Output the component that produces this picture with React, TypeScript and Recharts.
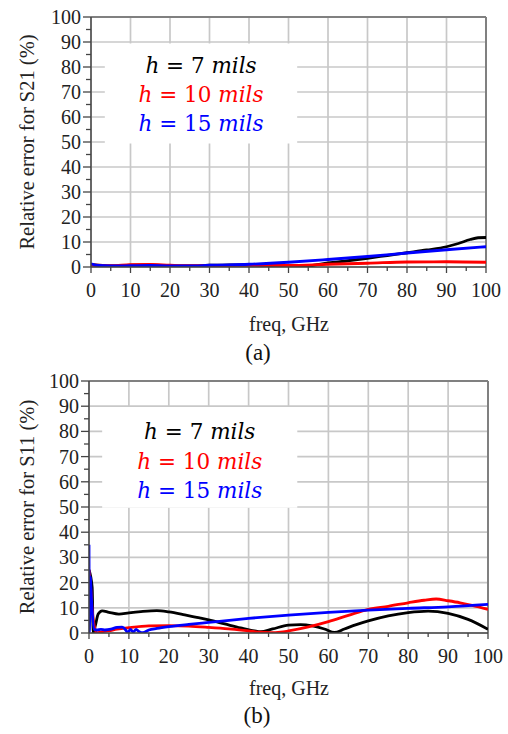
import React from 'react';
import { LineChart, Line, XAxis, YAxis, CartesianGrid, ReferenceArea, ReferenceLine } from 'recharts';

// ---------- data ----------
const majorTicks = [0, 10, 20, 30, 40, 50, 60, 70, 80, 90, 100];

// (a) S21 relative error
const s21Freq7 = [0, 5, 10, 15, 20, 25, 30, 35, 40, 45, 50, 53, 56, 60, 65, 70, 75, 80, 85, 90, 93, 96, 98, 100];
const s21Err7 = [1.0, 0.4, 0.7, 0.8, 0.4, 0.4, 0.7, 0.8, 0.9, 0.6, 0.1, 0.1, 0.6, 1.6, 2.5, 3.5, 4.6, 5.7, 6.8, 8.1, 9.4, 11.0, 11.7, 11.8];
const s21Freq10 = [0, 5, 10, 15, 20, 25, 30, 40, 50, 60, 70, 80, 90, 100];
const s21Err10 = [0.8, 0.5, 0.9, 1.0, 0.7, 0.5, 0.6, 0.7, 0.6, 1.1, 1.5, 2.0, 2.1, 1.9];
const s21Freq15 = [0, 2, 5, 10, 15, 20, 25, 30, 40, 50, 60, 70, 80, 90, 100];
const s21Err15 = [1.3, 0.6, 0.4, 0.5, 0.6, 0.4, 0.4, 0.7, 1.1, 1.9, 3.0, 4.2, 5.6, 6.9, 8.1];

// (b) S11 relative error
const s11Freq7 = [0, 0.8, 1.05, 1.6, 2.3, 3.3, 5, 7.5, 10, 13, 17, 20, 24, 27, 30, 34, 38, 41.5, 43, 46, 50, 53, 56, 59, 61.5, 64, 67, 70, 75, 80, 85, 90, 95, 100];
const s11Err7 = [25, 18, 0, 3, 7.5, 8.8, 8.2, 7.5, 8.0, 8.5, 8.9, 8.4, 7.2, 6.2, 5.2, 3.6, 2.0, 0.8, 0.5, 1.6, 3.1, 3.3, 2.8, 1.6, 0.2, 1.6, 3.3, 4.8, 6.8, 8.1, 8.7, 7.8, 5.4, 1.5];
const s11Freq10 = [0, 0.5, 0.75, 1.3, 2, 3, 5, 7, 10, 15, 20, 25, 30, 35, 40, 43, 45.5, 48, 50, 55, 60, 65, 70, 75, 80, 84, 87, 90, 93, 96, 100];
const s11Err10 = [25, 16, 10, 3, 0, 0.4, 0.9, 1.5, 2.1, 2.8, 2.9, 2.7, 2.2, 1.6, 0.8, 0.3, 0.1, 0.3, 0.8, 2.4, 4.5, 7.0, 9.4, 10.6, 12.0, 13.0, 13.5, 12.8, 12.0, 11.0, 9.4];
const s11Freq15 = [0, 0.08, 0.33, 0.6, 1.3, 2, 3, 4, 5.5, 7, 8.3, 9.2, 9.7, 10.4, 11.1, 11.8, 12.6, 13.5, 15, 17, 20, 25, 30, 40, 50, 60, 70, 80, 90, 100];
const s11Err15 = [35, 0.5, 22.3, 14, 1.5, 1.2, 1.4, 1.2, 1.5, 2.2, 2.3, 1.2, 0.1, 1.4, 0.4, 1.4, 0.5, 0.1, 1.2, 1.8, 2.5, 3.4, 4.2, 5.8, 7.1, 8.2, 9.1, 9.8, 10.4, 11.4];

const legendHeights = ['7', '10', '15'];
const seriesColors = ['#000000', '#ff0000', '#0000ff'];

// ---------- helpers ----------
const SERIF = "'Liberation Serif', 'Times New Roman', serif";
const MATH = "'DejaVu Serif', serif";
const zip = (f: number[], e: number[]) => f.map((v, i) => ({ f: v, e: e[i] }));
const CHART_W = 508;
const CHART_H = 370;
const TOP = 17;
const X_AXIS_H = 40;

// major tick + label, plus the minor (half-step) tick that follows it
const XTick = (props: any) => {
  const { x, y, payload, half } = props;
  const v = payload.value;
  return (
    <g>
      <line x1={x} y1={y} x2={x} y2={y + 6} stroke="#444" strokeWidth={1.3} />
      {v < 100 && <line x1={x + half} y1={y} x2={x + half} y2={y + 4} stroke="#444" strokeWidth={1.3} />}
      <text x={x} y={y + 30} textAnchor="middle" fontFamily={SERIF} fontSize={20} fill="#222">
        {v}
      </text>
    </g>
  );
};

const YTick = (props: any) => {
  const { x, y, payload, half } = props;
  const v = payload.value;
  return (
    <g>
      <line x1={x} y1={y} x2={x - 8} y2={y} stroke="#444" strokeWidth={1.3} />
      {v < 100 && <line x1={x} y1={y - half} x2={x - 5} y2={y - half} stroke="#444" strokeWidth={1.3} />}
      <text x={x - 10} y={y + 7} textAnchor="end" fontFamily={SERIF} fontSize={20} fill="#222">
        {v}
      </text>
    </g>
  );
};

type ChartProps = {
  pageTop: number;
  yAxisWidth: number;
  right: number;
  bottom: number;
  yLabel: string;
  yLabelCenter: number;
  caption: string;
  captionX: number;
  captionY: number;
  freqY: number;
  box: [number, number, number, number];
  legendOffsets: number[];
  series: { f: number; e: number }[][];
};

function ErrorChart(p: ChartProps) {
  const plotW = CHART_W - p.yAxisWidth - p.right;
  const plotH = CHART_H - TOP - p.bottom - X_AXIS_H;
  const halfX = plotW / (majorTicks.length - 1) / 2;
  const halfY = plotH / (majorTicks.length - 1) / 2;

  const legendContent = (lp: any) => {
    const vb = lp.viewBox || {};
    const cx = vb.x + vb.width / 2;
    return (
      <g>
        {legendHeights.map((h, i) => (
          <text key={h} x={cx} y={vb.y + p.legendOffsets[i]} textAnchor="middle" fontFamily={MATH} fontSize={21.5} fill={seriesColors[i]}>
            <tspan fontStyle="italic">h</tspan>
            {` = ${h} `}
            <tspan fontStyle="italic">mils</tspan>
          </text>
        ))}
      </g>
    );
  };
  const yLabelContent = () => (
    <text
      x={27}
      y={p.yLabelCenter}
      transform={`rotate(-90 27 ${p.yLabelCenter})`}
      textAnchor="middle"
      dominantBaseline="central"
      fontFamily={SERIF}
      fontSize={20.5}
      fill="#222"
    >
      {p.yLabel}
    </text>
  );
  const xLabelContent = () => (
    <g>
      <text x={289} y={p.freqY} textAnchor="middle" fontFamily={SERIF} fontSize={20} fill="#222">
        freq, GHz
      </text>
      <text x={p.captionX} y={p.captionY} textAnchor="middle" fontFamily={SERIF} fontSize={23} fill="#111">
        {p.caption}
      </text>
    </g>
  );
  return (
    <div style={{ position: 'absolute', left: 0, top: p.pageTop, width: CHART_W, height: CHART_H }}>
      <LineChart width={CHART_W} height={CHART_H} margin={{ top: TOP, right: p.right, bottom: p.bottom, left: 0 }}>
        <CartesianGrid stroke="#c8c8c8" strokeWidth={1.7} />
        <ReferenceArea
          x1={p.box[0]}
          x2={p.box[1]}
          y1={p.box[2]}
          y2={p.box[3]}
          fill="#ffffff"
          fillOpacity={1}
          stroke="none"
          label={legendContent}
        />
        <XAxis
          dataKey="f"
          type="number"
          domain={[0, 100]}
          ticks={majorTicks}
          interval={0}
          tickSize={0}
          tickMargin={0}
          tickLine={false}
          tick={<XTick half={halfX} />}
          height={X_AXIS_H}
          axisLine={{ stroke: '#444', strokeWidth: 1.5 }}
          allowDataOverflow
          allowDuplicatedCategory={false}
          label={xLabelContent}
        />
        <YAxis
          type="number"
          domain={[0, 100]}
          ticks={majorTicks}
          interval={0}
          tickSize={0}
          tickMargin={0}
          tickLine={false}
          tick={<YTick half={halfY} />}
          width={p.yAxisWidth}
          axisLine={{ stroke: '#444', strokeWidth: 1.5 }}
          allowDataOverflow
          label={yLabelContent}
        />
        <ReferenceLine y={100} stroke="#808080" strokeWidth={2} />
        <ReferenceLine x={100} stroke="#808080" strokeWidth={2} />
        {p.series.map((d, i) => (
          <Line
            key={i}
            data={d}
            dataKey="e"
            type="monotone"
            dot={false}
            activeDot={false}
            stroke={seriesColors[i]}
            strokeWidth={2.8}
            isAnimationActive={false}
          />
        ))}
      </LineChart>
    </div>
  );
}

export default function App() {
  return (
    <div style={{ position: 'absolute', left: 0, top: 0, width: 508, height: 734, background: '#fff' }}>
      <ErrorChart
        pageTop={0}
        yAxisWidth={91}
        right={22}
        bottom={63}
        yLabel="Relative error for S21 (%)"
        yLabelCenter={142}
        caption="(a)"
        captionX={258}
        captionY={360}
        freqY={331}
        box={[3.5, 52.2, 49.4, 89.4]}
        legendOffsets={[29.4, 58.4, 87.4]}
        series={[zip(s21Freq7, s21Err7), zip(s21Freq10, s21Err10), zip(s21Freq15, s21Err15)]}
      />
      <ErrorChart
        pageTop={364}
        yAxisWidth={89}
        right={20}
        bottom={61}
        yLabel="Relative error for S11 (%)"
        yLabelCenter={143}
        caption="(b)"
        captionX={257}
        captionY={359}
        freqY={331}
        box={[3.3, 52.2, 49.7, 89.7]}
        legendOffsets={[31.6, 61.6, 91]}
        series={[zip(s11Freq7, s11Err7), zip(s11Freq10, s11Err10), zip(s11Freq15, s11Err15)]}
      />
    </div>
  );
}
